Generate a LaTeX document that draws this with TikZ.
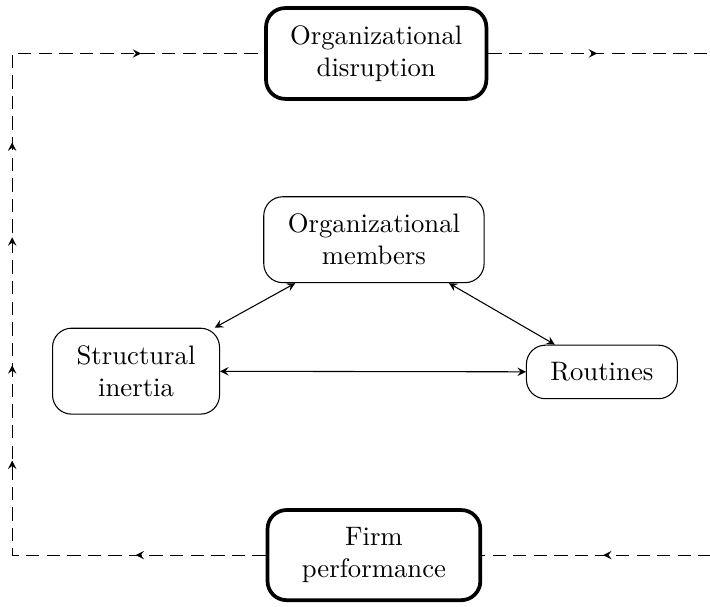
\documentclass[tikz,border=0pt]{standalone}
\usetikzlibrary{
	arrows
	,decorations.markings
}
\tikzset{
	block/.style={
		draw,
		rounded corners=2.5mm,
		align=center,
		inner xsep=9pt,
		inner ysep=6.5pt,
	},
	keyblock/.style={
		block,
		line width=1.4pt,
		fill=white,
	},
	feedback/.style={
		dash pattern=on 5pt off 2.7pt,
		postaction={decorate},
	}
}

\begin{document}
\begin{tikzpicture}[>=stealth, x=1cm, y=1cm]
\useasboundingbox (0,0) rectangle (9.342,7.974);

\node[keyblock] (disrupt) at (4.95,7.27) {Organizational\\disruption};
\node[block] (members) at (4.92,4.82) {Organizational\\members};
\node[block] (inertia) at (1.79,3.09) {Structural\\inertia};
\node[block] (routines) at (7.92,3.08) {Routines};
\node[keyblock, minimum width=2.8cm] (perf) at (4.92,0.67) {Firm\\performance};

\coordinate (lft) at (0.16,4);
\coordinate (rgt) at (9.6,4);

% feedback loop
\draw[feedback, decoration={markings,
	mark=at position 48.7pt with {\arrow{>}},
	mark=at position 130.3pt with {\arrow{>}},
	mark=at position 166pt with {\arrow{>}},
	mark=at position 213.9pt with {\arrow{>}},
	mark=at position 249.4pt with {\arrow{>}},
	mark=at position 331pt with {\arrow{>}}}]
	(perf.west) -| (lft) |- (disrupt.west);
\draw[feedback, decoration={markings,
	mark=at position 40.8pt with {\arrow{>}},
	mark=at position 325.5pt with {\arrow{>}}}]
	(disrupt.east) -| (rgt) |- (perf.east);

\foreach \x/\y in {members/inertia, members/routines, inertia/routines}{
	\draw[<->] (\x) -- (\y);
}
\end{tikzpicture}
\end{document}
